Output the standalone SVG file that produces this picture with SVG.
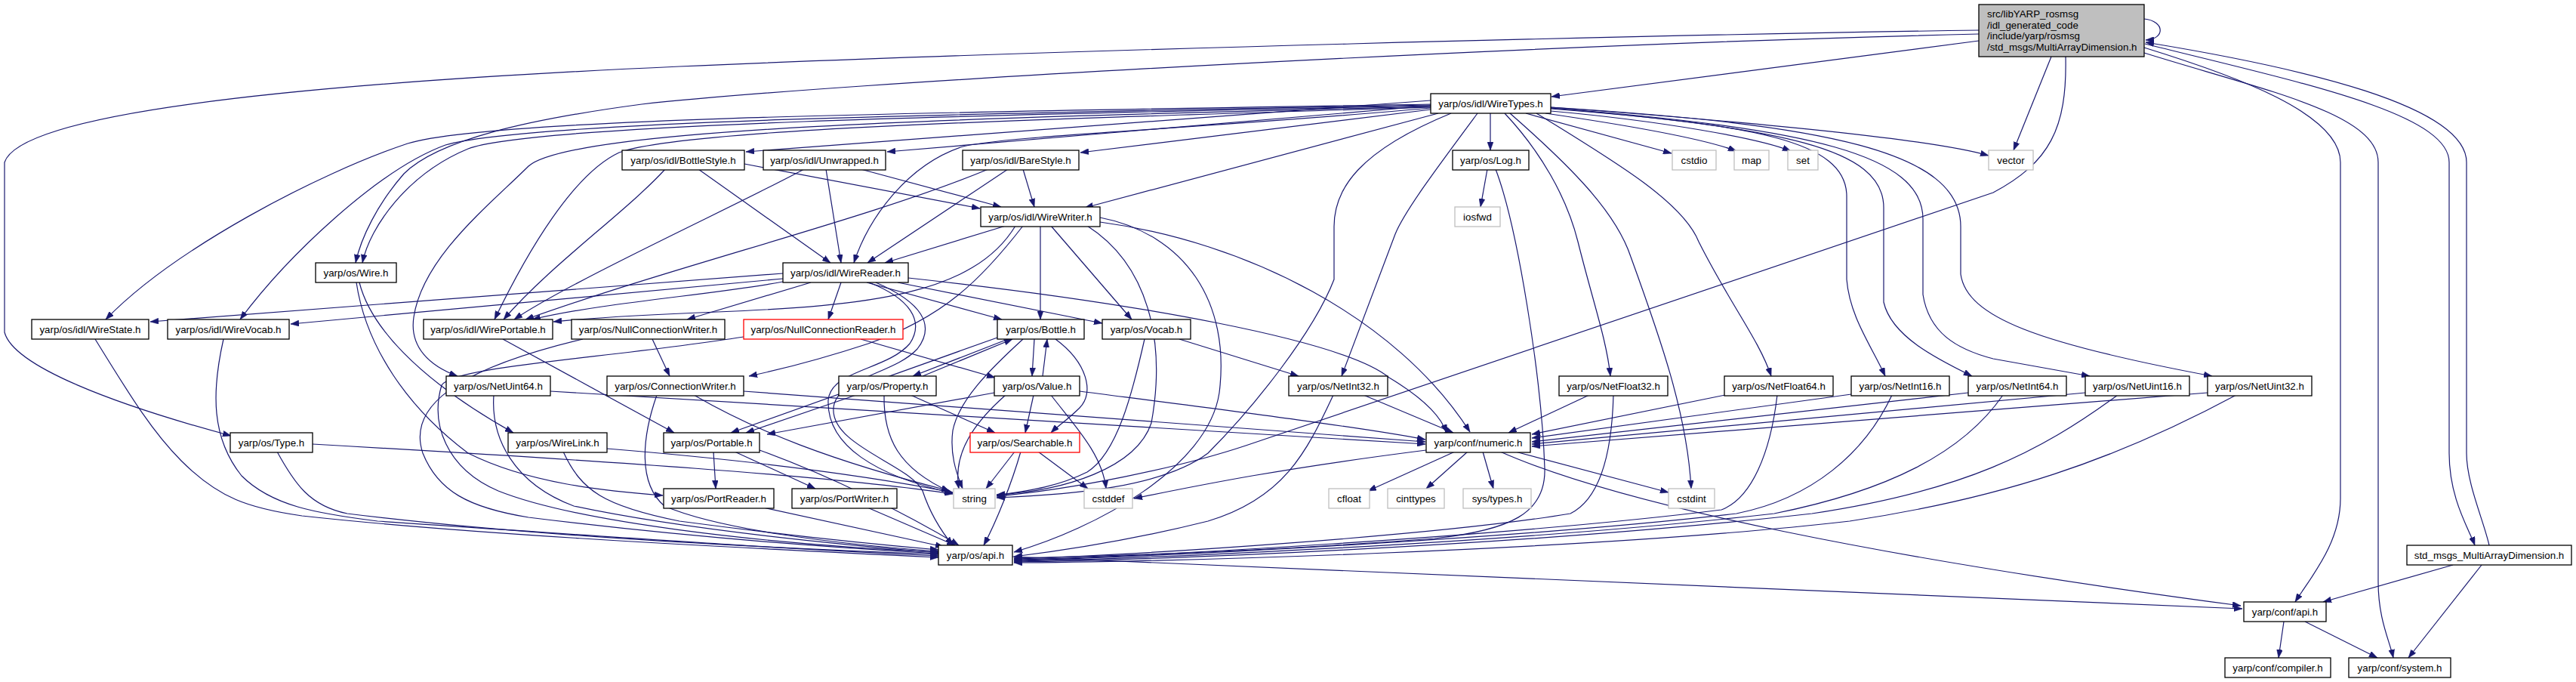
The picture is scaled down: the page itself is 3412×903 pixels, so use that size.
<svg xmlns="http://www.w3.org/2000/svg" width="3412" height="903" viewBox="0 0 3412 903">
<style>
text{font-family:"Liberation Sans",Arial,sans-serif;font-size:13.33px;fill:#000;text-anchor:middle}
rect{fill:#fff;stroke:#000;stroke-width:1.3}
.g rect{stroke:#bfbfbf}
.r rect{stroke:#ff0000}
#edges path{fill:none;stroke:#191970;stroke-width:1.2;marker-end:url(#a)}
</style>
<defs>
<marker id="a" markerUnits="userSpaceOnUse" markerWidth="11" markerHeight="8" refX="11" refY="4" orient="auto"><path d="M0,0 L11,4 L0,8 z" fill="#191970" stroke="#191970" stroke-width="0.5"/></marker>
</defs>
<rect x="0" y="0" width="3412" height="903" style="fill:#fff;stroke:none"/>
<g id="edges">
<path d="M2621,54 L2055,128"/>
<path d="M2717,75 L2667,199"/>
<path d="M2736,75 C2738,170 2715,215 2640,255 L1650,590 C1560,620 1420,648 1320,657"/>
<path d="M2621,40 C2200,46 1400,66 900,88 C500,106 30,140 6,215 L6,440 C18,485 150,535 306,577"/>
<path d="M2621,45 C2000,60 1100,110 850,138 C700,158 580,185 535,230 C500,270 478,315 471,348"/>
<path d="M2840,25 C2868,28 2868,52 2842,53"/>
<path d="M2840,63 C2960,100 3100,150 3100,215 L3100,660 C3100,720 3060,765 3040,797"/>
<path d="M2840,70 C3000,120 3150,150 3150,215 L3150,770 C3150,820 3165,848 3170,871"/>
<path d="M2841,58 C3050,110 3244,150 3244,215 L3244,600 C3244,660 3270,700 3278,722"/>
<path d="M3297,722 C3290,690 3267,640 3267,600 L3267,215 C3267,140 3050,90 2842,56"/>
<path d="M3249,748 L3077,797"/>
<path d="M3287,748 L3190,871"/>
<path d="M3025,823 L3018,871"/>
<path d="M3053,823 L3149,871"/>
<path d="M1974,150 L1974,199"/>
<path d="M2021,150 L2214,203"/>
<path d="M2047,150 C2150,165 2255,183 2300,200"/>
<path d="M2054,147 C2200,160 2330,183 2372,200"/>
<path d="M2054,142 C2300,160 2550,182 2634,206"/>
<path d="M2054,144 C2320,165 2446,185 2446,260 L2446,370 C2450,420 2480,460 2497,498"/>
<path d="M2054,143 C2360,170 2495,195 2495,275 L2495,400 C2505,445 2565,475 2612,498"/>
<path d="M2054,143 C2400,170 2547,205 2547,290 L2547,390 C2555,440 2590,462 2640,475 L2768,498"/>
<path d="M2054,142 C2420,165 2597,200 2597,300 L2597,363 C2605,420 2700,455 2930,498"/>
<path d="M1957,150 C1905,220 1860,280 1848,310 L1777,498"/>
<path d="M1993,150 C2040,200 2075,260 2090,320 C2110,400 2128,450 2133,498"/>
<path d="M2000,150 C2080,220 2140,280 2160,340 C2200,450 2235,550 2240,647"/>
<path d="M2035,150 C2150,220 2230,270 2250,320 C2290,400 2330,450 2346,498"/>
<path d="M1922,150 C1800,200 1767,250 1767,300 L1767,370 C1740,440 1660,540 1600,600 C1540,645 1420,655 1320,659"/>
<path d="M1895,138 C1300,148 650,155 540,190 C420,230 230,330 140,423"/>
<path d="M1895,139 C1300,150 700,160 590,192 C500,225 380,340 318,423"/>
<path d="M1895,140 C1300,152 700,165 620,197 C540,230 490,300 480,348"/>
<path d="M1895,141 C1300,156 760,168 700,220 C650,270 560,340 548,420 C542,460 570,485 606,498"/>
<path d="M1895,142 C1300,160 900,172 820,202 C760,230 700,330 655,423"/>
<path d="M1895,133 L988,201"/>
<path d="M1895,140 L1175,201"/>
<path d="M1895,145 L1431,202"/>
<path d="M1905,150 L1437,275"/>
<path d="M1895,143 C1600,170 1320,180 1272,195 C1200,220 1150,290 1131,348"/>
<path d="M881,224 C830,280 730,350 667,423"/>
<path d="M925,224 L1100,348"/>
<path d="M986,217 L1298,276"/>
<path d="M1065,224 C980,270 760,370 681,423"/>
<path d="M1094,224 L1114,348"/>
<path d="M1140,224 L1326,274"/>
<path d="M1309,224 C1150,290 900,350 696,423"/>
<path d="M1335,224 L1149,348"/>
<path d="M1355,224 L1370,274"/>
<path d="M1970,224 L1961,274"/>
<path d="M1981,224 C2010,300 2042,500 2046,620 C2048,680 2000,702 1900,713 C1700,728 1500,736 1343,739"/>
<path d="M1332,299 L1172,348"/>
<path d="M1355,299 C1300,370 1250,420 1150,455 C1080,478 1030,490 992,498"/>
<path d="M1345,299 C1290,390 1150,405 950,413 C850,417 780,421 733,426"/>
<path d="M1378,299 L1378,423"/>
<path d="M1392,299 L1499,423"/>
<path d="M1457,294 C1650,320 1850,420 1947,572"/>
<path d="M1440,299 C1520,350 1545,450 1525,560 C1505,620 1410,650 1320,655"/>
<path d="M1457,288 C1570,310 1630,400 1615,520 C1600,620 1450,700 1343,731"/>
<path d="M1037,362 L199,426"/>
<path d="M1037,369 L385,429"/>
<path d="M1037,373 C950,390 800,400 705,423"/>
<path d="M1074,374 L910,423"/>
<path d="M1114,374 L1097,423"/>
<path d="M1148,374 L1327,423"/>
<path d="M1189,374 L1460,428"/>
<path d="M1203,368 C1500,400 1780,450 1840,500 C1890,530 1910,555 1916,573"/>
<path d="M1151,374 C1205,395 1225,425 1205,455 C1175,490 1100,490 1097,530 C1095,590 1160,630 1262,653"/>
<path d="M1160,374 C1220,400 1240,430 1215,462 C1185,495 1108,500 1104,540 C1100,590 1205,615 1222,650 C1232,680 1248,705 1262,722"/>
<path d="M864,449 L887,498"/>
<path d="M772,449 C600,490 540,540 560,600 C580,650 620,672 700,685 C900,710 1100,725 1243,733"/>
<path d="M1140,449 L1318,500"/>
<path d="M985,446 C800,475 600,485 585,510 C570,560 590,620 660,650 C760,690 1000,720 1243,731"/>
<path d="M1321,447 L968,573"/>
<path d="M1335,449 L1209,498"/>
<path d="M1370,449 L1367,498"/>
<path d="M1398,449 C1440,480 1450,520 1430,540 C1415,555 1400,565 1392,573"/>
<path d="M1355,449 C1310,490 1270,530 1262,570 C1258,600 1266,625 1275,647"/>
<path d="M1381,498 L1387,449"/>
<path d="M1332,523 C1290,560 1262,600 1270,647"/>
<path d="M1369,523 L1358,573"/>
<path d="M1392,523 C1420,560 1460,600 1465,647"/>
<path d="M1317,520 L1016,575"/>
<path d="M1430,518 C1600,540 1800,565 1888,582"/>
<path d="M1222,498 L1341,449"/>
<path d="M1134,523 L988,573"/>
<path d="M1171,523 C1170,580 1190,620 1258,651"/>
<path d="M1206,523 L1318,573"/>
<path d="M1344,598 L1306,647"/>
<path d="M1375,598 L1441,647"/>
<path d="M1352,598 C1340,640 1320,690 1303,722"/>
<path d="M1562,449 L1720,498"/>
<path d="M1516,449 C1500,520 1480,600 1440,625 C1400,645 1360,650 1320,656"/>
<path d="M985,518 L1888,585"/>
<path d="M919,523 C1000,570 1100,610 1258,650"/>
<path d="M870,523 C850,580 845,640 880,670 C950,700 1100,720 1243,730"/>
<path d="M729,518 L1888,588"/>
<path d="M654,523 C650,580 680,640 760,670 C900,700 1100,720 1243,732"/>
<path d="M1806,523 L1925,573"/>
<path d="M1766,523 C1730,600 1700,660 1600,690 C1500,715 1400,730 1343,737"/>
<path d="M2105,523 L1998,573"/>
<path d="M2137,523 C2135,600 2120,660 2080,680 C1900,710 1500,735 1343,740"/>
<path d="M2285,523 L2029,575"/>
<path d="M2354,523 C2345,600 2320,660 2280,675 C2000,710 1500,738 1343,741"/>
<path d="M2452,522 L2029,580"/>
<path d="M2506,523 C2470,600 2400,660 2300,680 C2000,715 1500,738 1343,742"/>
<path d="M2607,520 L2029,585"/>
<path d="M2653,523 C2600,600 2500,650 2350,680 C2000,720 1500,740 1343,743"/>
<path d="M2762,520 L2029,588"/>
<path d="M2805,523 C2700,600 2600,650 2400,680 C2000,725 1500,742 1343,744"/>
<path d="M2924,520 L2029,591"/>
<path d="M2962,523 C2800,610 2650,660 2450,690 C2100,730 1500,745 1343,745"/>
<path d="M1927,598 L1812,650"/>
<path d="M1944,598 L1889,647"/>
<path d="M1964,598 L1978,647"/>
<path d="M2007,598 L2210,652"/>
<path d="M1987,598 C2150,670 2500,740 2968,802"/>
<path d="M1889,596 C1700,620 1600,640 1502,660"/>
<path d="M1341,737 L2970,806"/>
<path d="M367,598 C390,640 410,670 460,680 C700,710 1000,725 1243,734"/>
<path d="M414,588 C800,610 1100,630 1262,654"/>
<path d="M746,598 C770,650 800,670 900,690 C1050,710 1150,720 1243,728"/>
<path d="M804,594 C1000,610 1150,630 1262,652"/>
<path d="M476,374 C490,430 550,500 680,573"/>
<path d="M472,374 C485,460 540,540 620,600 C700,640 800,650 878,656"/>
<path d="M126,449 C170,520 200,570 240,610 C290,660 330,673 400,683 C600,705 900,722 1243,738"/>
<path d="M296,449 C280,520 280,580 320,630 C360,670 420,680 500,690 C800,710 1000,725 1243,736"/>
<path d="M666,449 L893,573"/>
<path d="M945,598 L948,647"/>
<path d="M973,598 L1080,647"/>
<path d="M1006,596 C1100,630 1200,680 1270,722"/>
<path d="M1011,672 L1250,724"/>
<path d="M1149,672 L1265,722"/>
</g>
<g id="n_main"><rect x="2621" y="6" width="219" height="69" style="fill:#bfbfbf"/><text x="2632" y="23" style="text-anchor:start">src/libYARP_rosmsg</text><text x="2632" y="37.7" style="text-anchor:start">/idl_generated_code</text><text x="2632" y="52.4" style="text-anchor:start">/include/yarp/rosmsg</text><text x="2632" y="67" style="text-anchor:start">/std_msgs/MultiArrayDimension.h</text></g>
<g id="n_wiretypes"><rect x="1895" y="124" width="159" height="26"/><text x="1974.5" y="141.5">yarp/os/idl/WireTypes.h</text></g>
<g id="n_bottlestyle"><rect x="824" y="199" width="162" height="26"/><text x="905" y="216.5">yarp/os/idl/BottleStyle.h</text></g>
<g id="n_unwrapped"><rect x="1011" y="199" width="162" height="26"/><text x="1092" y="216.5">yarp/os/idl/Unwrapped.h</text></g>
<g id="n_barestyle"><rect x="1275" y="199" width="154" height="26"/><text x="1352" y="216.5">yarp/os/idl/BareStyle.h</text></g>
<g id="n_log"><rect x="1924" y="199" width="101" height="26"/><text x="1974.5" y="216.5">yarp/os/Log.h</text></g>
<g id="n_cstdio" class="g"><rect x="2215" y="199" width="58" height="26"/><text x="2244" y="216.5">cstdio</text></g>
<g id="n_map" class="g"><rect x="2297" y="199" width="46" height="26"/><text x="2320" y="216.5">map</text></g>
<g id="n_set" class="g"><rect x="2368" y="199" width="40" height="26"/><text x="2388" y="216.5">set</text></g>
<g id="n_vector" class="g"><rect x="2634" y="199" width="59" height="26"/><text x="2663.5" y="216.5">vector</text></g>
<g id="n_wirewriter"><rect x="1299" y="274" width="158" height="26"/><text x="1378" y="291.5">yarp/os/idl/WireWriter.h</text></g>
<g id="n_iosfwd" class="g"><rect x="1927" y="274" width="60" height="26"/><text x="1957" y="291.5">iosfwd</text></g>
<g id="n_wire"><rect x="418" y="348" width="107" height="26"/><text x="471.5" y="365.5">yarp/os/Wire.h</text></g>
<g id="n_wirereader"><rect x="1037" y="348" width="166" height="26"/><text x="1120" y="365.5">yarp/os/idl/WireReader.h</text></g>
<g id="n_wirestate"><rect x="42" y="423" width="155" height="26"/><text x="119.5" y="440.5">yarp/os/idl/WireState.h</text></g>
<g id="n_wirevocab"><rect x="222" y="423" width="161" height="26"/><text x="302.5" y="440.5">yarp/os/idl/WireVocab.h</text></g>
<g id="n_wireportable"><rect x="561" y="423" width="171" height="26"/><text x="646.5" y="440.5">yarp/os/idl/WirePortable.h</text></g>
<g id="n_nullconnwriter"><rect x="757" y="423" width="203" height="26"/><text x="858.5" y="440.5">yarp/os/NullConnectionWriter.h</text></g>
<g id="n_nullconnreader" class="r"><rect x="985" y="423" width="211" height="26"/><text x="1090.5" y="440.5">yarp/os/NullConnectionReader.h</text></g>
<g id="n_bottle"><rect x="1321" y="423" width="115" height="26"/><text x="1378.5" y="440.5">yarp/os/Bottle.h</text></g>
<g id="n_vocab"><rect x="1460" y="423" width="117" height="26"/><text x="1518.5" y="440.5">yarp/os/Vocab.h</text></g>
<g id="n_netuint64"><rect x="591" y="498" width="138" height="26"/><text x="660" y="515.5">yarp/os/NetUint64.h</text></g>
<g id="n_connwriter"><rect x="804" y="498" width="181" height="26"/><text x="894.5" y="515.5">yarp/os/ConnectionWriter.h</text></g>
<g id="n_property"><rect x="1111" y="498" width="129" height="26"/><text x="1175.5" y="515.5">yarp/os/Property.h</text></g>
<g id="n_value"><rect x="1317" y="498" width="113" height="26"/><text x="1373.5" y="515.5">yarp/os/Value.h</text></g>
<g id="n_netint32"><rect x="1707" y="498" width="131" height="26"/><text x="1772.5" y="515.5">yarp/os/NetInt32.h</text></g>
<g id="n_netfloat32"><rect x="2065" y="498" width="144" height="26"/><text x="2137" y="515.5">yarp/os/NetFloat32.h</text></g>
<g id="n_netfloat64"><rect x="2284" y="498" width="144" height="26"/><text x="2356" y="515.5">yarp/os/NetFloat64.h</text></g>
<g id="n_netint16"><rect x="2452" y="498" width="130" height="26"/><text x="2517" y="515.5">yarp/os/NetInt16.h</text></g>
<g id="n_netint64"><rect x="2607" y="498" width="130" height="26"/><text x="2672" y="515.5">yarp/os/NetInt64.h</text></g>
<g id="n_netuint16"><rect x="2762" y="498" width="138" height="26"/><text x="2831" y="515.5">yarp/os/NetUint16.h</text></g>
<g id="n_netuint32"><rect x="2924" y="498" width="138" height="26"/><text x="2993" y="515.5">yarp/os/NetUint32.h</text></g>
<g id="n_type"><rect x="305" y="573" width="109" height="26"/><text x="359.5" y="590.5">yarp/os/Type.h</text></g>
<g id="n_wirelink"><rect x="673" y="573" width="131" height="26"/><text x="738.5" y="590.5">yarp/os/WireLink.h</text></g>
<g id="n_portable"><rect x="879" y="573" width="127" height="26"/><text x="942.5" y="590.5">yarp/os/Portable.h</text></g>
<g id="n_searchable" class="r"><rect x="1285" y="573" width="145" height="26"/><text x="1357.5" y="590.5">yarp/os/Searchable.h</text></g>
<g id="n_numeric"><rect x="1889" y="573" width="138" height="26"/><text x="1958" y="590.5">yarp/conf/numeric.h</text></g>
<g id="n_portreader"><rect x="879" y="647" width="146" height="26"/><text x="952" y="664.5">yarp/os/PortReader.h</text></g>
<g id="n_portwriter"><rect x="1049" y="647" width="139" height="26"/><text x="1118.5" y="664.5">yarp/os/PortWriter.h</text></g>
<g id="n_string" class="g"><rect x="1263" y="647" width="55" height="26"/><text x="1290.5" y="664.5">string</text></g>
<g id="n_cstddef" class="g"><rect x="1436" y="647" width="64" height="26"/><text x="1468" y="664.5">cstddef</text></g>
<g id="n_cfloat" class="g"><rect x="1760" y="647" width="54" height="26"/><text x="1787" y="664.5">cfloat</text></g>
<g id="n_cinttypes" class="g"><rect x="1838" y="647" width="75" height="26"/><text x="1875.5" y="664.5">cinttypes</text></g>
<g id="n_systypes" class="g"><rect x="1938" y="647" width="90" height="26"/><text x="1983" y="664.5">sys/types.h</text></g>
<g id="n_cstdint" class="g"><rect x="2210" y="647" width="61" height="26"/><text x="2240.5" y="664.5">cstdint</text></g>
<g id="n_osapi"><rect x="1243" y="722" width="98" height="26"/><text x="1292" y="739.5">yarp/os/api.h</text></g>
<g id="n_stdmsgs"><rect x="3188" y="722" width="218" height="26"/><text x="3297" y="739.5">std_msgs_MultiArrayDimension.h</text></g>
<g id="n_confapi"><rect x="2972" y="797" width="109" height="26"/><text x="3026.5" y="814.5">yarp/conf/api.h</text></g>
<g id="n_compiler"><rect x="2947" y="871" width="140" height="26"/><text x="3017" y="888.5">yarp/conf/compiler.h</text></g>
<g id="n_system"><rect x="3111" y="871" width="135" height="26"/><text x="3178.5" y="888.5">yarp/conf/system.h</text></g>
</svg>
